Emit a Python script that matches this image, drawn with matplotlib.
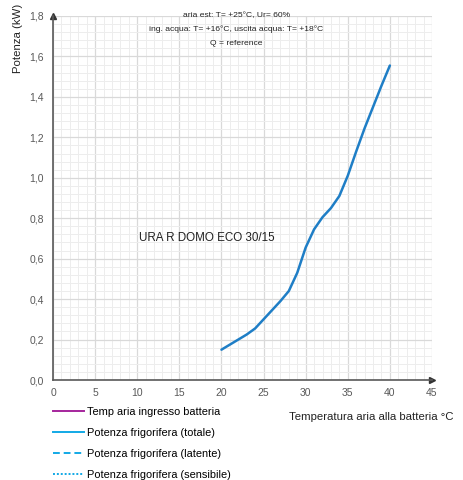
"""Potenza frigorifera URA R DOMO ECO 30/15 vs temperatura aria."""

import matplotlib

matplotlib.use("Agg")
import matplotlib.pyplot as plt
from matplotlib.lines import Line2D
from matplotlib.ticker import FuncFormatter, MultipleLocator

plt.rcParams["font.family"] = ["Liberation Sans", "DejaVu Sans"]

# data
temp_aria = [20, 21, 22, 23, 24, 25, 26, 27, 28, 29, 30,
             31, 32, 33, 34, 35, 36, 37, 38, 39, 40]
potenza_totale = [0.15, 0.175, 0.20, 0.225, 0.255, 0.30, 0.345, 0.39, 0.44, 0.53, 0.655,
                  0.745, 0.805, 0.85, 0.91, 1.01, 1.13, 1.245, 1.35, 1.455, 1.555]

x_ticks = [0, 5, 10, 15, 20, 25, 30, 35, 40, 45]
y_ticks = [0.0, 0.2, 0.4, 0.6, 0.8, 1.0, 1.2, 1.4, 1.6, 1.8]

legend_labels = [
    "Temp aria ingresso batteria",
    "Potenza frigorifera (totale)",
    "Potenza frigorifera (latente)",
    "Potenza frigorifera (sensibile)",
]
note_lines = [
    "aria est: T= +25°C, Ur= 60%",
    "ing. acqua: T= +16°C, uscita acqua: T= +18°C",
    "Q = reference",
]

figure = plt.figure(figsize=(4.63, 4.8), dpi=100)
axis = figure.add_axes([0.1145, 0.2083, 0.8185, 0.7584])

axis.plot(temp_aria, potenza_totale, color="#1f7ec6", linewidth=1.8,
          solid_capstyle="round", solid_joinstyle="round", zorder=3)

axis.set_xlim(0, 45)
axis.set_ylim(0, 1.8)
axis.set_xticks(x_ticks)
axis.set_yticks(y_ticks)
axis.xaxis.set_minor_locator(MultipleLocator(1))
axis.yaxis.set_minor_locator(MultipleLocator(0.04))
axis.yaxis.set_major_formatter(FuncFormatter(lambda v, _: f"{v:.1f}".replace(".", ",")))

axis.grid(True, which="major", color="#d9d9d9", linewidth=0.9)
axis.grid(True, which="minor", color="#ededed", linewidth=0.7)
axis.set_axisbelow(True)

axis.tick_params(which="both", length=0, labelsize=7.5, colors="#595959")
axis.tick_params(axis="x", pad=6)
axis.tick_params(axis="y", pad=6.5)

for side in ("top", "right"):
    axis.spines[side].set_visible(False)
for side in ("left", "bottom"):
    axis.spines[side].set_color("#595959")
    axis.spines[side].set_linewidth(1.2)

# arrow heads on the axes
axis.plot(1, 0, ">", color="#333333", markersize=4, transform=axis.transAxes,
          clip_on=False)
axis.plot(0, 1, "^", color="#333333", markersize=4, transform=axis.transAxes,
          clip_on=False)

figure.text(0.038, 0.992, "Potenza (kW)", rotation=90, ha="center", va="top",
            fontsize=8.2, color="#222222")

for index, line in enumerate(note_lines):
    figure.text(0.51, 0.967 - index * 0.0285, line, ha="center", va="center",
                fontsize=6.1, color="#222222")

axis.text(18.3, 0.70, "URA R DOMO ECO 30/15", ha="center", va="center",
          fontsize=8.4, color="#222222")

figure.text(0.801, 0.131, "Temperatura aria alla batteria °C", ha="center",
            va="center", fontsize=8.2, color="#222222")

handles = [
    Line2D([], [], color="#a5259c", linewidth=1.4),
    Line2D([], [], color="#12a9e6", linewidth=1.4),
    Line2D([], [], color="#12a9e6", linewidth=1.4, linestyle=(0, (3.5, 2))),
    Line2D([], [], color="#12a9e6", linewidth=1.4, linestyle=(0, (1, 1))),
]
figure.legend(handles, legend_labels, loc="upper left",
              bbox_to_anchor=(0.1145, 0.152), frameon=False, fontsize=7.9,
              handlelength=2.8, handletextpad=0.28, labelspacing=1.0,
              borderpad=0, borderaxespad=0)

figure.savefig("out.png", dpi=100)
